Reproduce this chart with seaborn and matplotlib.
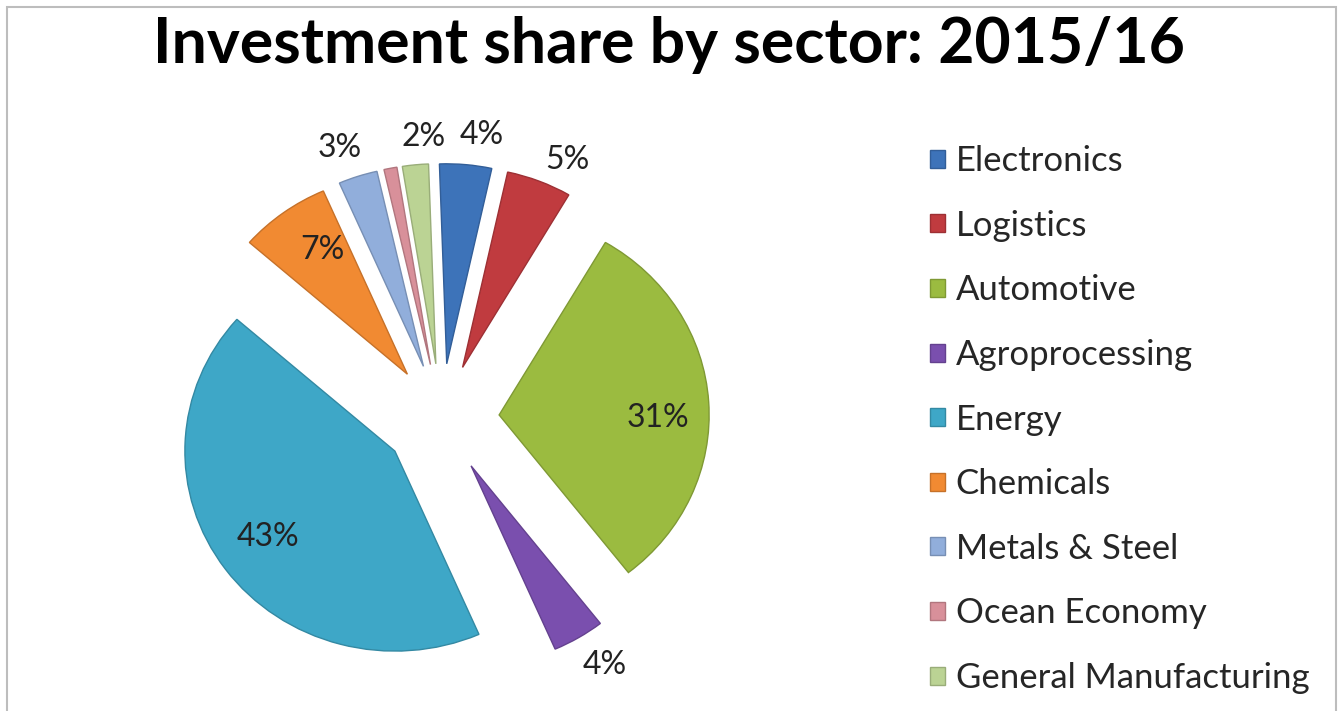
import matplotlib
matplotlib.use("Agg")
import matplotlib.pyplot as plt
import matplotlib.colors as mcolors
import numpy as np
import seaborn as sns
from matplotlib.patches import Rectangle

# Investment shares (%) by sector, 2015/16, clockwise from 12 o'clock
sectors = ["Electronics", "Logistics", "Automotive", "Agroprocessing", "Energy",
           "Chemicals", "Metals & Steel", "Ocean Economy", "General Manufacturing"]
shares = [4, 5, 31, 4, 43, 7, 3, 1, 2]
share_labels = ["4%", "5%", "31%", "4%", "43%", "7%", "3%", "", "2%"]

palette = sns.color_palette(["#3D73B9", "#C03B3F", "#9BBB40", "#7A4FAE", "#3EA7C7",
                             "#F18A32", "#91AEDB", "#D8909A", "#BBD394"])

# label placement: distance from slice centre (in radii) and angular nudge (deg, clockwise)
label_radius = [1.156, 1.152, 0.757, 1.183, 0.742, 0.742, 1.162, 1.1, 1.136]
label_turn = [3.2, 4.4, 4.9, -1.8, 0.8, 3.0, -1.8, 0.0, 2.75]

sns.set_theme(style="white")
plt.rcParams["font.family"] = ["Lato", "DejaVu Sans"]

W, H = 1343, 711
xstretch = 1.05          # the chart area is drawn slightly wider than tall
fig = plt.figure(figsize=(W / 100, H / 100), dpi=100)
ax = fig.add_axes([0, 0, 1, 1])

cx, cy, R = 441.5 / xstretch, H - 418.6, 200
gap = 55

wedges, _ = ax.pie(shares, explode=[gap] * len(shares), colors=palette,
                   startangle=92, counterclock=False, center=(cx, cy), radius=R,
                   wedgeprops=dict(linewidth=1.0))
for w, c in zip(wedges, palette):
    w.set_edgecolor(tuple(np.array(mcolors.to_rgb(c)) * 0.82))

for w, txt, rf, turn in zip(wedges, share_labels, label_radius, label_turn):
    if not txt:
        continue
    mid = np.deg2rad((w.theta1 + w.theta2) / 2 - turn)
    px, py = w.center
    ax.text(px + rf * R * np.cos(mid), py + rf * R * np.sin(mid), txt,
            ha="center", va="center", fontsize=23, color="#222222")

ax.set_xlim(0, W / xstretch)
ax.set_ylim(0, H)
ax.set_aspect("auto")
ax.axis("off")

ax.legend(wedges, sectors, loc="upper left", bbox_to_anchor=(930 / W, 1 - 145 / H),
          frameon=False, fontsize=25, handlelength=0.42, handleheight=0.42,
          handletextpad=0.32, labelspacing=0.94, borderaxespad=0, borderpad=0,
          labelcolor="#262626")

fig.text(669 / W, 1 - 63 / H, "Investment share by sector: 2015/16",
         ha="center", va="baseline", fontsize=45, fontweight="bold", color="black")

fig.add_artist(Rectangle((7 / W, -0.01), 1329 / W, 1 - 7 / H + 0.01,
                         transform=fig.transFigure, fill=False,
                         edgecolor="#BDBDBD", linewidth=1.5))

fig.savefig("out.png", dpi=100, facecolor="white")
